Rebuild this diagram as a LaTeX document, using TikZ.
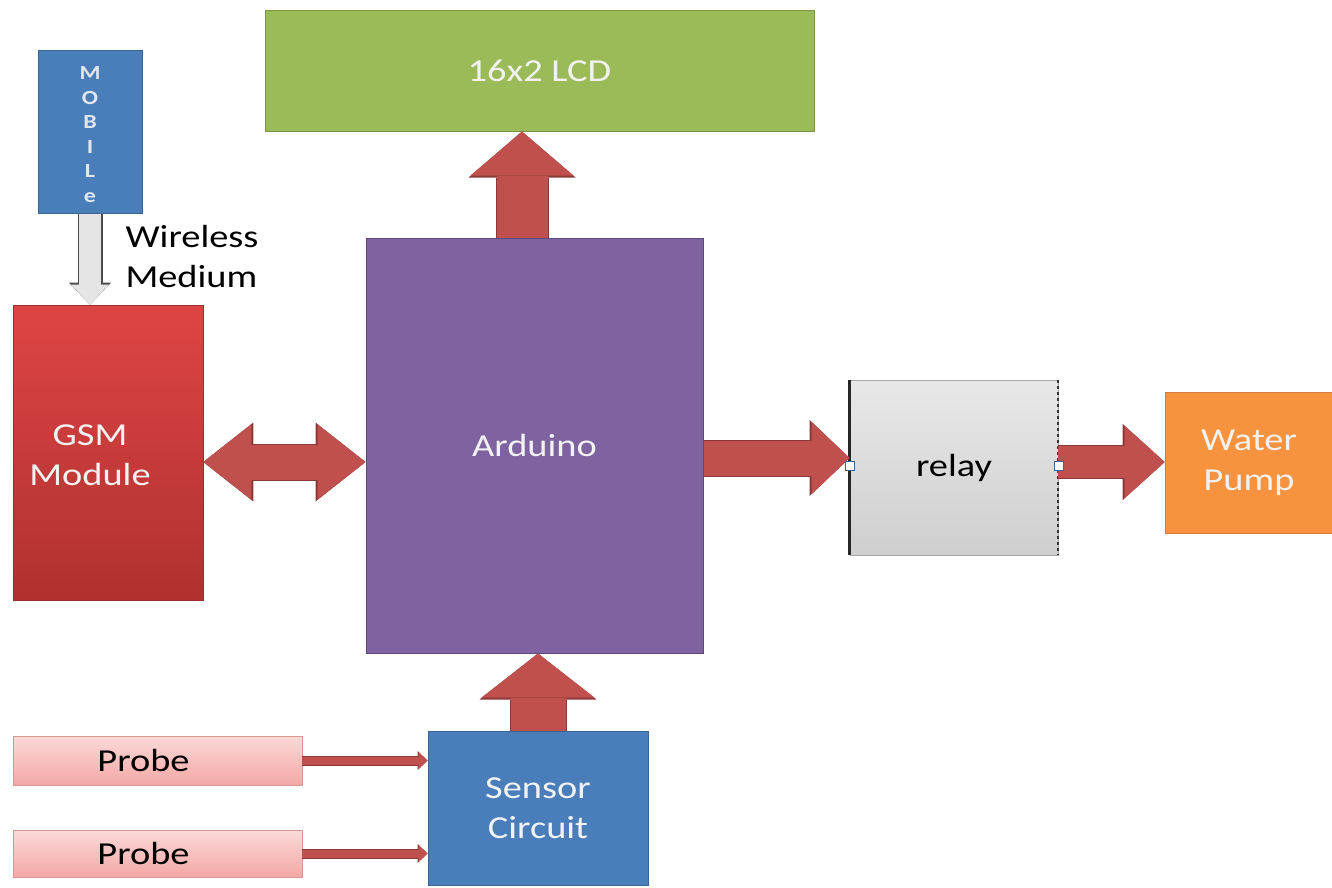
\documentclass[tikz,border=0pt]{standalone}
\usepackage{fontspec}
\setmainfont[FakeStretch=1.2]{Carlito}
\usetikzlibrary{arrows.meta,calc}
\definecolor{lcdgreen}{HTML}{9BBB59}
\definecolor{lcdline}{HTML}{7A9443}
\definecolor{mobblue}{HTML}{4A7EBB}
\definecolor{blueline}{HTML}{3A6495}
\definecolor{ardpurple}{HTML}{7F63A1}
\definecolor{ardline}{HTML}{5E4880}
\definecolor{gsmtop}{HTML}{DD4544}
\definecolor{gsmbot}{HTML}{B0312F}
\definecolor{pumporange}{HTML}{F7923F}
\definecolor{arrfill}{HTML}{C0504D}
\definecolor{arrline}{HTML}{8C3836}
\definecolor{probetop}{HTML}{FBD9D8}
\definecolor{probebot}{HTML}{F3A8A6}
\definecolor{probeline}{HTML}{D99694}
\definecolor{whitetext}{HTML}{F2F2F2}
\begin{document}
\begin{tikzpicture}[x=1pt,y=-1pt,
  box/.style={rectangle,inner sep=0pt,minimum width=#1},
  txt/.style={font=\fontsize{32}{40}\selectfont,align=center},
  port/.style={rectangle,draw=blueline,fill=white,line width=0.8pt,minimum width=9pt,minimum height=9pt,inner sep=0pt}
]
\useasboundingbox (0,0) rectangle (1332,887);

% blocks
\node[box=549,minimum height=121,fill=lcdgreen,draw=lcdline,line width=1pt,txt,text=whitetext] (lcd) at (539.5,70.5) {16x2 LCD};
\node[box=104,minimum height=163,fill=mobblue,draw=blueline,line width=1pt] (mob) at (90,131.5) {};
\node[font=\bfseries\fontsize{20}{24.5}\selectfont,align=center,text=whitetext!90!mobblue] (mobtxt) at ($(mob.center)+(0,3)$) {M\\O\\B\\I\\L\\e};
\node[box=190,minimum height=295,top color=gsmtop,bottom color=gsmbot,draw=gsmbot!90!black,line width=0.6pt] (gsm) at (108,452.5) {};
\node[txt,text=whitetext] (gsmtxt) at ($(gsm.center)+(-18,3)$) {GSM\\Module};
\node[box=337,minimum height=415,fill=ardpurple,draw=ardline,line width=1pt,txt,text=whitetext] (ard) at (534.5,445.5) {Arduino};
\node[box=208,minimum height=175,top color=gray!18,bottom color=gray!38,draw=gray!70,line width=0.8pt,txt,text=black] (rel) at (954,467.5) {relay};
\draw[line width=3pt,color=black!85] (rel.north west) -- (rel.south west);
\draw[line width=2pt,color=black!80,dashed] (rel.north east) -- (rel.south east);
\node[box=168,minimum height=141,fill=pumporange,draw=pumporange!85!black,line width=0.6pt,txt,text=whitetext] (pump) at (1249,462.5) {Water\\Pump};
\node[box=220,minimum height=154,fill=mobblue,draw=blueline,line width=1pt,txt,text=whitetext] (sen) at (538,808) {Sensor\\Circuit};
\node[box=289,minimum height=49,top color=probetop,bottom color=probebot,draw=probeline,line width=0.6pt,txt] (p1) at (157.5,760.5) {Probe\hspace*{28pt}};
\node[box=289,minimum height=47,top color=probetop,bottom color=probebot,draw=probeline,line width=0.6pt,txt] (p2) at (157.5,853.5) {Probe\hspace*{28pt}};
\node[txt,align=left,anchor=north west] (wl) at (122,222) {Wireless\\Medium};

% connectors
\coordinate (a1) at ($(ard.north)+(-12.5,0)$);
\draw[line width=51pt,color=arrfill,-{Triangle[length=44pt,width=103pt,line width=0pt]},
  preaction={draw=arrline,line width=53pt,-{Triangle[length=46pt,width=107pt,line width=0pt]}}]
  (a1) -- (a1 |- lcd.south);
\draw[line width=55pt,color=arrfill,-{Triangle[length=44pt,width=113pt,line width=0pt]},
  preaction={draw=arrline,line width=57pt,-{Triangle[length=46pt,width=117pt,line width=0pt]}}]
  (sen.north) -- (sen.north |- ard.south);
\coordinate (r1) at ($(ard.east)+(0,12.5)$);
\draw[line width=35pt,color=arrfill,-{Triangle[length=38pt,width=72pt,line width=0pt]},
  preaction={draw=arrline,line width=37pt,-{Triangle[length=40pt,width=76pt,line width=0pt]}}]
  (r1) -- (r1 -| rel.west);
\coordinate (r2) at ($(rel.east)+(0,-5.5)$);
\draw[line width=32pt,color=arrfill,-{Triangle[length=40pt,width=72pt,line width=0pt]},
  preaction={draw=arrline,line width=34pt,-{Triangle[length=42pt,width=76pt,line width=0pt]}}]
  (r2) -- (r2 -| pump.west);
\coordinate (d1) at ($(gsm.east)+(0,9.5)$);
\draw[line width=35pt,color=arrfill,{Triangle[length=48pt,width=75pt,line width=0pt]}-{Triangle[length=48pt,width=75pt,line width=0pt]},
  preaction={draw=arrline,line width=37pt,{Triangle[length=50pt,width=79pt,line width=0pt]}-{Triangle[length=50pt,width=79pt,line width=0pt]}}]
  (d1) -- (d1 -| ard.west);
\draw[line width=22pt,color=gray!20,-{Triangle[length=20pt,width=38pt,line width=0pt]},
  preaction={draw=gray!60!black,line width=25pt,-{Triangle[length=22pt,width=42pt,line width=0pt]}}]
  (mob.south) -- (mob.south |- gsm.north);
\draw[line width=8pt,color=arrfill,-{Triangle[length=9pt,width=17pt,line width=0pt]},
  preaction={draw=arrline,line width=10pt,-{Triangle[length=10pt,width=19pt,line width=0pt]}}]
  (p1.east) -- (p1.east -| sen.west);
\draw[line width=8pt,color=arrfill,-{Triangle[length=9pt,width=17pt,line width=0pt]},
  preaction={draw=arrline,line width=10pt,-{Triangle[length=10pt,width=19pt,line width=0pt]}}]
  (p2.east) -- (p2.east -| sen.west);

% ports on relay
\node[port] (pin) at ($(rel.west)+(0,-1.5)$) {};
\node[port] (pout) at ($(rel.east)+(0,-1.5)$) {};
\end{tikzpicture}
\end{document}
